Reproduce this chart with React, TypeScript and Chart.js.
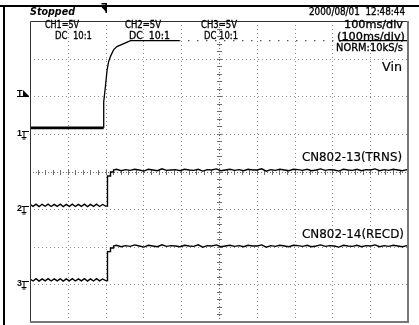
import React, { useEffect, useRef } from 'react';
import { Chart, registerables } from 'chart.js';

Chart.register(...registerables);

// ---- scope settings ----
const timeMin = 0; // ms
const timeMax = 1000; // ms (100 ms/div x 10 div)
const timePerDiv = 100;
const divRows = 8;
const voltsPerDiv = 5;

// ground levels (in divisions from bottom of screen)
const ch1Ground = 5;
const ch2Ground = 3;
const ch3Ground = 1;
const triggerLevelDiv = 6.08;

// ---- CH1 (Vin) ----
const ch1Time = [0, 195, 195, 199.5, 204, 208, 213, 221.5, 230, 239, 257, 266, 395, 817, 1000];
const ch1Volt = [0.8, 0.8, 4.26, 6.3, 8.5, 9.6, 10.3, 11.2, 11.6, 11.8, 12.2, 12.4, 12.4, 12.4, 12.4];

// ---- CH2 / CH3 ripple before the edge (sampled every lowStep ms from 0) ----
const lowStep = 8;
const ch2Low = [0.62, 0.36, 0.66, 0.34, 0.64, 0.38, 0.66, 0.35, 0.63, 0.37, 0.65, 0.34, 0.62, 0.36, 0.66, 0.35, 0.64, 0.37, 0.65, 0.34, 0.63, 0.36, 0.66, 0.35, 0.62, 0.4];
const ch3Low = [0.72, 0.45, 0.75, 0.44, 0.73, 0.47, 0.76, 0.45, 0.72, 0.46, 0.74, 0.44, 0.73, 0.47, 0.75, 0.45, 0.72, 0.46, 0.76, 0.44, 0.73, 0.45, 0.75, 0.46, 0.72, 0.5];

// ---- rising edges ----
const edgeTime = [205, 205, 213, 213, 221, 221];
const ch2Edge = [0.4, 4.4, 4.4, 4.93, 4.93, 5.2];
const ch3Edge = [0.5, 4.35, 4.35, 4.84, 4.84, 5.1];

// ---- noisy high level after the edge (sampled every highStep ms from highStart) ----
const highStart = 229;
const highStep = 12;
const ch2High = [5.3, 5.1, 5.25, 5.15, 5.3, 5.2, 5.05, 5.3, 5.2, 5.1, 5.35, 5.15, 5.2, 5.25, 5.1, 5.3, 5.2, 5.15, 5.3, 5.05, 5.25, 5.2, 5.35, 5.1, 5.2, 5.3, 5.15, 5.25, 5.1, 5.3, 5.2, 5.2, 5.35, 5.05, 5.25, 5.15, 5.3, 5.2, 5.1, 5.3, 5.25, 5.15, 5.3, 5.1, 5.2, 5.35, 5.15, 5.25, 5.2, 5.05, 5.3, 5.2, 5.15, 5.3, 5.1, 5.25, 5.2, 5.35, 5.1, 5.25, 5.15, 5.3, 5.2, 5.1, 5.25, 5.2];
const ch3High = [5.2, 5.0, 5.15, 5.05, 5.25, 5.1, 4.95, 5.2, 5.1, 5.0, 5.25, 5.05, 5.15, 5.1, 5.0, 5.2, 5.1, 5.05, 5.25, 4.95, 5.15, 5.1, 5.25, 5.0, 5.1, 5.2, 5.05, 5.15, 5.0, 5.2, 5.1, 5.1, 5.25, 4.95, 5.15, 5.05, 5.2, 5.1, 5.0, 5.2, 5.15, 5.05, 5.2, 5.0, 5.1, 5.25, 5.05, 5.15, 5.1, 4.95, 5.2, 5.1, 5.05, 5.2, 5.0, 5.15, 5.1, 5.25, 5.0, 5.15, 5.05, 5.2, 5.1, 5.0, 5.15, 5.1];

// ---- text ----
const statusText = 'Stopped';
const dateText = '2000/08/01  12:48:44';
const channelLabels = ['CH1=5V', 'CH2=5V', 'CH3=5V'];
const couplingLabels = ['DC  10:1', 'DC  10:1', 'DC 10:1'];
const timebaseLabels = ['100ms/div', '(100ms/div)', 'NORM:10kS/s'];
const traceNames = ['Vin', 'CN802-13(TRNS)', 'CN802-14(RECD)'];
const groundMarks = ['1', '2', '3'];

type Pt = { x: number; y: number };

function toDiv(ground: number, pts: { t: number; v: number }[]): Pt[] {
  return pts.map((p) => ({ x: p.t, y: ground + p.v / voltsPerDiv }));
}

function buildStepChannel(ground: number, low: number[], edge: number[], high: number[]): Pt[] {
  const pts: { t: number; v: number }[] = [];
  low.forEach((v, i) => pts.push({ t: i * lowStep, v }));
  edge.forEach((v, i) => pts.push({ t: edgeTime[i], v }));
  high.forEach((v, i) => pts.push({ t: highStart + i * highStep, v }));
  return toDiv(ground, pts);
}

const FONT = "'Liberation Sans', Arial, sans-serif";
const HFONT = "'DejaVu Sans', 'Liberation Sans', sans-serif";

function fitText(ctx: CanvasRenderingContext2D, text: string, x: number, y: number, w: number, font: string, heavy = 0) {
  ctx.save();
  ctx.font = font;
  ctx.textBaseline = 'middle';
  ctx.textAlign = 'left';
  const nat = ctx.measureText(text).width;
  ctx.translate(x, y);
  ctx.scale(w / nat, 1);
  ctx.fillStyle = '#000';
  ctx.fillText(text, 0, 0);
  if (heavy > 0) {
    ctx.strokeStyle = '#000';
    ctx.lineWidth = heavy;
    ctx.strokeText(text, 0, 0);
  }
  ctx.restore();
}

const scopePlugin = {
  id: 'scopePlugin',
  beforeDraw(chart: any) {
    const ctx = chart.ctx as CanvasRenderingContext2D;
    ctx.save();
    ctx.fillStyle = '#fff';
    ctx.fillRect(0, 0, chart.width, chart.height);
    ctx.restore();
  },
  beforeDatasetsDraw(chart: any) {
    const ctx = chart.ctx as CanvasRenderingContext2D;
    const xs = chart.scales.x;
    const ys = chart.scales.y;
    const { left, right, top, bottom } = chart.chartArea;
    ctx.save();
    ctx.lineWidth = 1;
    // dotted grid
    ctx.strokeStyle = '#8c8c8c';
    ctx.setLineDash([1, 3]);
    for (let i = 1; i < (timeMax - timeMin) / timePerDiv; i++) {
      if (i === 5) continue;
      const x = Math.round(xs.getPixelForValue(i * timePerDiv)) + 0.5;
      ctx.beginPath();
      ctx.moveTo(x, top);
      ctx.lineTo(x, bottom);
      ctx.stroke();
    }
    for (let j = 1; j < divRows; j++) {
      if (j === 4) continue;
      const y = Math.round(ys.getPixelForValue(j)) + 0.5;
      ctx.beginPath();
      ctx.moveTo(left, y);
      ctx.lineTo(right, y);
      ctx.stroke();
    }
    // center axes with minor ticks
    const cx = Math.round(xs.getPixelForValue(500)) + 0.5;
    const cy = Math.round(ys.getPixelForValue(4)) + 0.5;
    ctx.strokeStyle = '#6e6e6e';
    ctx.setLineDash([1, 2]);
    ctx.beginPath();
    ctx.moveTo(cx, top);
    ctx.lineTo(cx, bottom);
    ctx.moveTo(left, cy);
    ctx.lineTo(right, cy);
    ctx.stroke();
    ctx.setLineDash([]);
    ctx.beginPath();
    for (let k = 1; k < divRows * 5; k++) {
      const y = Math.round(ys.getPixelForValue(k * 0.2)) + 0.5;
      ctx.moveTo(cx - 2.5, y);
      ctx.lineTo(cx + 2.5, y);
    }
    for (let k = 1; k < 50; k++) {
      const x = Math.round(xs.getPixelForValue(k * 20)) + 0.5;
      ctx.moveTo(x, cy - 2.5);
      ctx.lineTo(x, cy + 2.5);
    }
    ctx.stroke();
    ctx.restore();
  },
  afterDatasetsDraw(chart: any) {
    const ctx = chart.ctx as CanvasRenderingContext2D;
    const xs = chart.scales.x;
    const ys = chart.scales.y;
    const { left, right, top, bottom } = chart.chartArea;
    ctx.save();
    // plot border
    ctx.lineWidth = 1;
    ctx.strokeStyle = '#333';
    ctx.beginPath();
    ctx.moveTo(left + 0.5, bottom);
    ctx.lineTo(left + 0.5, top + 0.5);
    ctx.lineTo(right, top + 0.5);
    ctx.stroke();
    ctx.strokeStyle = '#777';
    ctx.lineWidth = 2;
    ctx.beginPath();
    ctx.moveTo(right, top);
    ctx.lineTo(right, bottom);
    ctx.lineTo(left, bottom);
    ctx.stroke();

    // outer frame
    ctx.fillStyle = '#000';
    ctx.fillRect(0, 5, chart.width, 2);
    ctx.fillRect(3, 5, 2, chart.height - 5);

    // header texts
    fitText(ctx, statusText, 30, 12.5, 45, `italic bold 11px ${HFONT}`);
    fitText(ctx, dateText, 309, 12.5, 96, `11px ${HFONT}`, 0.35);
    const chX = [45, 125, 201];
    const chW = [34, 36, 36];
    const dcX = [55, 129, 204];
    const dcW = [37, 41, 34];
    channelLabels.forEach((t, i) => fitText(ctx, t, chX[i], 25, chW[i], `11px ${HFONT}`, 0.35));
    couplingLabels.forEach((t, i) => fitText(ctx, t, dcX[i], 36.5, dcW[i], `11px ${HFONT}`, 0.35));
    const tbRight = 403;
    const tbW = [59, 68, 67];
    const tbY = [25, 37, 48.5];
    timebaseLabels.forEach((t, i) => fitText(ctx, t, tbRight - tbW[i] + (i === 1 ? 2 : 0), tbY[i], tbW[i], `11px ${HFONT}`, 0.35));

    // trace names
    fitText(ctx, traceNames[0], 382, 68, 20, `12.5px ${HFONT}`, 0.2);
    fitText(ctx, traceNames[1], 302, 158, 100, `12.5px ${HFONT}`, 0.2);
    fitText(ctx, traceNames[2], 302, 235, 102, `12.5px ${HFONT}`, 0.2);

    // trigger position marker (top)
    const tx = Math.round(xs.getPixelForValue(200)) - 0.5;
    ctx.fillStyle = '#000';
    ctx.fillRect(tx - 4, 3, 5, 1.5);
    ctx.fillRect(tx, 3, 1.5, 10);
    ctx.beginPath();
    ctx.moveTo(tx - 4, 7);
    ctx.lineTo(tx + 0.5, 7);
    ctx.lineTo(tx + 0.5, 12);
    ctx.closePath();
    ctx.fill();

    // trigger level marker (left)
    const tly = Math.round(ys.getPixelForValue(triggerLevelDiv));
    ctx.font = `bold 9px ${FONT}`;
    ctx.textBaseline = 'alphabetic';
    ctx.textAlign = 'left';
    ctx.fillText('T', 17, tly + 3);
    ctx.beginPath();
    ctx.moveTo(23, tly - 3);
    ctx.lineTo(23, tly + 3);
    ctx.lineTo(29, tly + 3);
    ctx.closePath();
    ctx.fill();
    ctx.fillRect(17, tly + 3, 12, 1);

    // ground markers
    const grounds = [ch1Ground, ch2Ground, ch3Ground];
    grounds.forEach((g, i) => {
      const gy = Math.round(ys.getPixelForValue(g));
      ctx.font = `bold 9px ${FONT}`;
      ctx.fillText(groundMarks[i], 17, gy + 2);
      ctx.fillRect(22, gy - 3, 7, 1);
      ctx.fillRect(23.5, gy - 3, 1, 6);
      ctx.fillRect(21.5, gy + 3, 5, 1);
      ctx.fillRect(22.5, gy + 4.5, 3, 1);
    });
    ctx.restore();
  },
};

export default function App() {
  const ref = useRef<HTMLCanvasElement | null>(null);
  useEffect(() => {
    if (!ref.current) return;
    const ch1 = toDiv(ch1Ground, ch1Time.map((t, i) => ({ t, v: ch1Volt[i] })));
    const ch2 = buildStepChannel(ch2Ground, ch2Low, ch2Edge, ch2High);
    const ch3 = buildStepChannel(ch3Ground, ch3Low, ch3Edge, ch3High);
    const chart = new Chart(ref.current, {
      type: 'line',
      data: {
        datasets: [
          {
            label: 'CH1',
            data: ch1,
            borderColor: '#000',
            borderWidth: 1.3,
            pointRadius: 0,
            tension: 0,
            segment: {
              borderWidth: (c: any) => (c.p0.parsed.x < 190 ? 2.6 : 1.3),
              borderDash: (c: any) => (c.p0.parsed.x >= 395 && c.p0.parsed.x < 817 ? [1, 8] : undefined),
            },
          },
          { label: 'CH2', data: ch2, borderColor: '#000', borderWidth: 1.4, pointRadius: 0, tension: 0 },
          { label: 'CH3', data: ch3, borderColor: '#000', borderWidth: 1.4, pointRadius: 0, tension: 0 },
        ],
      },
      options: {
        responsive: false,
        animation: false,
        layout: { padding: { left: 30, top: 21, right: 11, bottom: 3 } },
        scales: {
          x: { type: 'linear', min: timeMin, max: timeMax, display: false },
          y: { type: 'linear', min: 0, max: divRows, display: false },
        },
        plugins: { legend: { display: false }, tooltip: { enabled: false } },
      },
      plugins: [scopePlugin],
    } as any);
    return () => chart.destroy();
  }, []);
  return (
    <div style={{ position: 'absolute', left: 0, top: 0, width: 419, height: 325 }}>
      <canvas ref={ref} width={419} height={325} style={{ display: 'block' }} />
    </div>
  );
}
